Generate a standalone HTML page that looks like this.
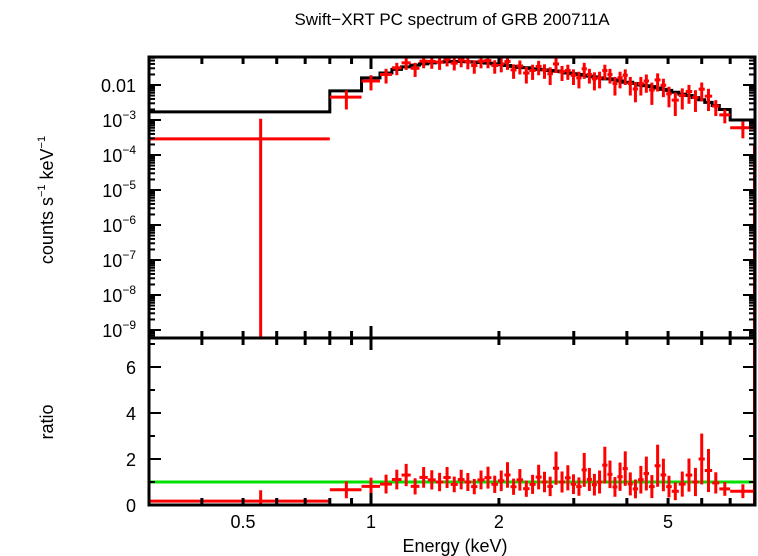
<!DOCTYPE html>
<html><head><meta charset="utf-8"><style>
html,body{margin:0;padding:0;background:#fff;}
svg{display:block;font-family:"Liberation Sans",sans-serif;}
</style></head><body>
<svg id="chart" width="758" height="556" viewBox="0 0 758 556">
<text x="452" y="25" font-size="17" text-anchor="middle">Swift−XRT PC spectrum of GRB 200711A</text>
<text transform="translate(53,200) rotate(-90)" font-size="18" text-anchor="middle">counts s<tspan font-size="11" dy="-8">−1</tspan><tspan dy="8"> keV</tspan><tspan font-size="11" dy="-8">−1</tspan></text>
<text transform="translate(53,422) rotate(-90)" font-size="18" text-anchor="middle">ratio</text>
<text x="455" y="552" font-size="18" text-anchor="middle">Energy (keV)</text>
<g id="g-top"></g>
<g id="g-bot"></g>
<g id="g-axes"></g>
</svg>
<script>
const edges = [0.3,0.8,0.95,1.05,1.12,1.18,1.24,1.30,1.36,1.42,1.48,1.54,1.60,1.66,1.72,1.78,1.85,1.92,1.99,2.06,2.13,2.20,2.28,2.36,2.44,2.52,2.60,2.68,2.77,2.86,2.95,3.04,3.13,3.22,3.31,3.40,3.50,3.60,3.70,3.80,3.91,4.02,4.13,4.25,4.38,4.51,4.65,4.80,4.95,5.10,5.30,5.50,5.70,5.90,6.10,6.35,6.60,7.0,8.0];
const model = [0.0017,0.0068,0.016,0.022,0.028,0.033,0.037,0.040,0.043,0.045,0.046,0.047,0.047,0.046,0.045,0.044,0.042,0.040,0.038,0.036,0.034,0.032,0.031,0.029,0.028,0.027,0.026,0.025,0.024,0.022,0.021,0.020,0.019,0.018,0.017,0.016,0.015,0.015,0.014,0.013,0.012,0.012,0.011,0.010,0.0095,0.009,0.0082,0.0075,0.007,0.0062,0.0055,0.005,0.0044,0.0038,0.0032,0.0026,0.002,0.001];
const counts = [0.00029,0.0045,0.013,0.020,0.031,0.043,0.030,0.048,0.047,0.045,0.055,0.042,0.052,0.046,0.036,0.048,0.050,0.036,0.040,0.047,0.027,0.035,0.022,0.026,0.034,0.027,0.021,0.040,0.024,0.026,0.019,0.016,0.029,0.020,0.015,0.016,0.026,0.020,0.011,0.016,0.019,0.011,0.0077,0.011,0.013,0.0072,0.014,0.0098,0.0056,0.0037,0.005,0.0065,0.0044,0.0076,0.0048,0.0025,0.0014,0.0006];
const errs = [0.0008,0.0025,0.006,0.009,0.012,0.016,0.013,0.018,0.018,0.018,0.021,0.016,0.020,0.018,0.015,0.018,0.020,0.015,0.017,0.020,0.012,0.015,0.011,0.012,0.015,0.012,0.011,0.018,0.011,0.012,0.009,0.008,0.014,0.009,0.008,0.008,0.012,0.009,0.006,0.008,0.009,0.006,0.0045,0.006,0.007,0.0045,0.0075,0.0053,0.0033,0.0024,0.003,0.0036,0.0027,0.0042,0.003,0.0012,0.0006,0.0003];
const yTopTicks = ["0.01","10^-3","10^-4","10^-5","10^-6","10^-7","10^-8","10^-9"];
const yTopTickVals = [-2,-3,-4,-5,-6,-7,-8,-9];
const yBotTicks = [0,2,4,6];
const xTickLabels = ["0.5","1","2","5"];
const xTickVals = [0.5,1,2,5];

const NS="http://www.w3.org/2000/svg";
const L=149,R=755,T1=57,B1=338,T2=338,B2=505;
const xs = e => 371 + 425*Math.log10(e);
const yt = v => 85 - 35*(Math.log10(v)+2);
const yb = r => 505 - 23*r;
function mk(parent,tag,attrs){const el=document.createElementNS(NS,tag);for(const k in attrs)el.setAttribute(k,attrs[k]);parent.appendChild(el);return el;}
const gT=document.getElementById('g-top'),gB=document.getElementById('g-bot'),gA=document.getElementById('g-axes');

let d="";
for(let i=0;i<model.length;i++){const x0=xs(edges[i]),x1=xs(edges[i+1]),y=Math.max(T1,yt(model[i]));d+=(i?"L":"M")+x0+","+y+"L"+x1+","+y;}
const ml=mk(gT,'path',{d:d,fill:'none',stroke:'#000','stroke-width':3});



const gl=mk(gB,'line',{x1:L,x2:R,y1:yb(1),y2:yb(1),stroke:'#00e000','stroke-width':3});



for(let i=0;i<counts.length;i++){
  const x0=xs(edges[i]),x1=xs(edges[i+1]),xc=xs((edges[i]+edges[i+1])/2);
  const c=counts[i],e=errs[i];
  const y=yt(c),yu=Math.max(T1,yt(c+e)),yl=(c-e>0)?Math.min(B1,yt(c-e)):B1;
  const g=mk(gT,'g',{stroke:'#ff0000','stroke-width':3});
  
  
  if(y>=T1){mk(g,'line',{x1:x0,x2:x1,y1:y,y2:y});}
  mk(g,'line',{x1:xc,x2:xc,y1:yu,y2:yl});
  const r=c/model[i],re=e/model[i];
  const g2=mk(gB,'g',{stroke:'#ff0000','stroke-width':3});
  
  
  const ry=yb(r);
  mk(g2,'line',{x1:x0,x2:x1,y1:ry,y2:ry});
  mk(g2,'line',{x1:xc,x2:xc,y1:Math.max(T2,yb(r+re)),y2:Math.min(B2,yb(Math.max(0,r-re)))});
}
const edgeBar=mk(gA,'line',{x1:754.5,x2:754.5,y1:145,y2:505,stroke:'#ff0000','stroke-width':3});



[[T1,B1],[T2,B2]].forEach(([t,b],k)=>{
  const f=mk(gA,'rect',{x:L,y:t,width:R-L,height:b-t,fill:'none',stroke:'#000','stroke-width':3});
  
  
  const xt=[0.4,0.5,0.6,0.7,0.8,0.9,1,2,3,4,5,6,7,8];
  xt.forEach(v=>{const x=xs(v),len=(v===1)?12:7;
    mk(gA,'line',{x1:x,x2:x,y1:t,y2:t+len,stroke:'#000','stroke-width':3});
    mk(gA,'line',{x1:x,x2:x,y1:b,y2:b-len,stroke:'#000','stroke-width':3});});
});
for(let dec=-10;dec<=-1;dec++){for(let m=1;m<10;m++){const v=m*Math.pow(10,dec),y=yt(v);if(y<T1||y>B1)continue;const len=m===1?12:6;
  mk(gA,'line',{x1:L,x2:L+len,y1:y,y2:y,stroke:'#000','stroke-width':2});
  mk(gA,'line',{x1:R,x2:R-len,y1:y,y2:y,stroke:'#000','stroke-width':2});}}
yTopTicks.forEach((s,i)=>{const y=yt(Math.pow(10,yTopTickVals[i]));
  const t=mk(gA,'text',{x:136,y:y+7,'font-size':18,'text-anchor':'end'});
  
  
  if(s.indexOf('^')<0){t.textContent=s;}else{const p=s.split('^');const a=document.createElementNS(NS,'tspan');a.textContent=p[0];t.appendChild(a);const b=document.createElementNS(NS,'tspan');b.setAttribute('font-size','12');b.setAttribute('dy','-8');b.textContent=p[1].replace('-','−');t.appendChild(b);}
});
for(let r=0;r<=7;r++){const y=yb(r),len=r%2===0?12:6;
  mk(gA,'line',{x1:L,x2:L+len,y1:y,y2:y,stroke:'#000','stroke-width':2});
  mk(gA,'line',{x1:R,x2:R-len,y1:y,y2:y,stroke:'#000','stroke-width':2});}
yBotTicks.forEach(v=>{const t=mk(gA,'text',{x:136,y:yb(v)+7,'font-size':18,'text-anchor':'end'});
  
  
  t.textContent=v;});
xTickLabels.forEach((s,i)=>{const t=mk(gA,'text',{x:xs(xTickVals[i]),y:528,'font-size':18,'text-anchor':'middle'});
  
  
  t.textContent=s;});
</script>
</body></html>
